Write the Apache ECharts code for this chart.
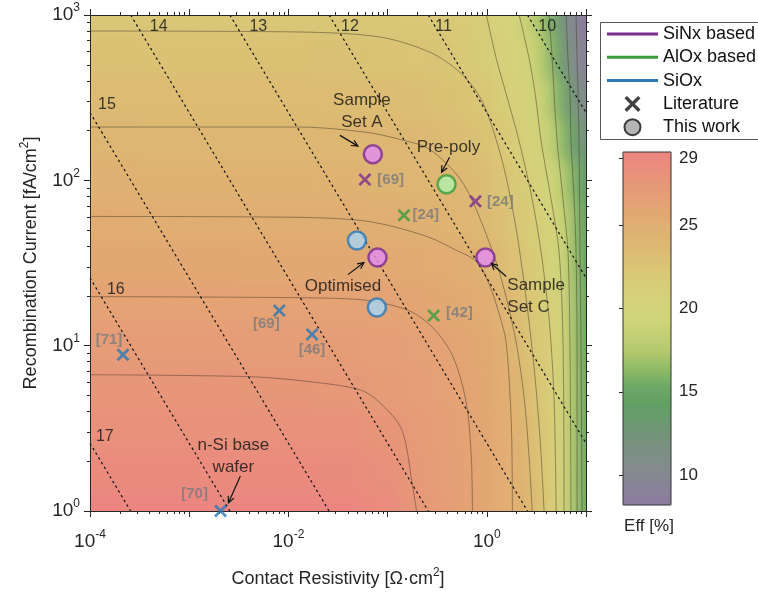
<!DOCTYPE html>
<html><head><meta charset="utf-8">
<script src="https://cdn.jsdelivr.net/npm/echarts@6/dist/echarts.min.js"></script>
<style>
html,body{margin:0;padding:0;background:#fff;}
#wrap{position:relative;width:758px;height:594px;overflow:hidden;}
#bg{position:absolute;left:0;top:0;width:758px;height:594px;filter:blur(8px);clip-path:inset(15px 172px 83px 90px);}
#main{position:absolute;left:0;top:0;width:758px;height:594px;}
</style></head><body>
<div id="wrap"><div id="bg"></div><div id="main"></div></div>
<script>
// ================= DATA =================
// efficiency map nodes
const rhoNodes = [1e-4, 1e-3, 0.01, 0.0316, 0.1, 0.178, 0.316, 0.562, 1, 1.41, 2.0, 2.82, 3.55, 4.47, 5.62, 6.61, 7.59, 8.71, 10];
const j0Nodes = [1, 1.78, 3.16, 5.62, 10, 17.8, 31.6, 56.2, 100, 178, 316, 562, 1000];
// efficiency [%], one row per j0Nodes entry, one column per rhoNodes entry
const effGrid = [
  [29.3, 29.3, 29.3, 29.2, 28.7, 27.6, 27.0, 26.5, 25.85, 25.4, 24.8, 23.9, 22.7, 21.7, 20.3, 19.0, 17.5, 15.8, 14.8],
  [28.7, 28.7, 28.7, 28.65, 28.2, 27.34, 26.9, 26.46, 25.83, 25.38, 24.74, 23.62, 22.47, 21.59, 20.26, 18.94, 17.51, 15.75, 14.8],
  [28.1, 28.1, 28.1, 28.05, 27.65, 27.22, 26.81, 26.41, 25.78, 25.35, 24.63, 23.28, 22.27, 21.49, 20.22, 18.9, 17.49, 15.7, 14.8],
  [27.55, 27.55, 27.5, 27.42, 27.01, 26.77, 26.54, 26.3, 25.66, 25.27, 24.37, 22.87, 22.06, 21.39, 20.16, 18.84, 17.47, 15.64, 14.8],
  [26.95, 26.95, 26.9, 26.87, 26.72, 26.55, 26.37, 25.98, 25.48, 25.18, 23.84, 22.46, 21.83, 21.15, 20.1, 18.78, 17.43, 15.5, 14.7],
  [26.4, 26.38, 26.35, 26.33, 26.3, 26.04, 25.76, 25.48, 25.2, 24.45, 23.2, 22.19, 21.6, 20.85, 19.84, 18.62, 17.32, 15.42, 14.6],
  [25.8, 25.78, 25.75, 25.68, 25.56, 25.44, 25.31, 25.18, 24.46, 23.55, 22.72, 21.77, 21.09, 20.35, 19.27, 18.2, 17.11, 15.33, 14.4],
  [25.2, 25.18, 25.15, 25.12, 24.98, 24.84, 24.57, 24.18, 23.62, 23.01, 22.36, 21.52, 20.87, 20.17, 19.02, 17.97, 16.96, 14.8, 14.0],
  [24.65, 24.63, 24.6, 24.55, 24.4, 24.26, 24.07, 23.87, 23.1, 22.64, 21.91, 21.03, 20.36, 19.46, 18.24, 17.02, 15.75, 14.2, 13.3],
  [24.05, 24.03, 24.0, 23.98, 23.92, 23.82, 23.62, 23.15, 22.67, 22.17, 21.39, 20.52, 19.85, 18.48, 16.87, 15.3, 13.8, 12.6, 11.8],
  [23.5, 23.48, 23.45, 23.4, 23.25, 23.1, 22.92, 22.68, 22.19, 21.53, 20.85, 20.16, 19.03, 17.54, 15.5, 13.5, 12.0, 10.8, 10.0],
  [22.9, 22.88, 22.85, 22.8, 22.67, 22.58, 22.49, 21.98, 21.47, 21.04, 20.45, 19.48, 17.99, 16.3, 13.5, 11.8, 10.4, 9.4, 8.8],
  [22.3, 22.3, 22.28, 22.23, 22.16, 22.1, 22.0, 21.72, 21.26, 20.67, 20.08, 18.35, 17.09, 15.4, 12.5, 10.8, 9.6, 8.6, 8.2]
];

// efficiency contour lines, [contact resistivity, J0]
const contourA = [[1e-4,6.67],[4.13e-3,6.49],[0.0166,6.05],[0.0526,5.41],[0.0836,4.52],[0.139,3.10],[0.179,1.40],[0.196,1]];
const contourB = [[1e-4,19.8],[0.0131,19.5],[0.0526,19.0],[0.105,17.7],[0.179,15.9],[0.284,12.9],[0.421,9.46],[0.531,6.67],[0.638,4.09],[0.700,2.04],[0.716,1]];
const contourC = [[1e-4,60.5],[0.0131,59.7],[0.0526,57.3],[0.113,52.6],[0.265,45.1],[0.473,38.2],[0.787,32.3],[1.06,23.4],[1.34,15.4],[1.57,10.4],[1.77,3.23],[1.81,1]];
const contourD = [[1e-4,210],[0.0131,210],[0.0618,195],[0.132,177],[0.265,154],[0.569,97.2],[1.06,42.1],[1.50,21.8],[1.98,10.4],[2.39,4.71],[2.68,2.04],[2.87,1]];
const contourE = [[1e-4,800],[0.0131,789],[0.0836,736],[0.265,597],[0.531,452],[0.843,323],[1.11,218],[1.50,117],[1.98,50.5],[2.50,19.0],[3.01,7.16],[3.45,2.69],[3.78,1]];
const contourF = [[0.991,1000],[1.25,541],[1.57,332],[2.12,172],[2.87,76.7],[3.53,36.6],[4.25,14.4],[4.77,4.71],[5.00,1]];
const contourG = [[2.12,1000],[2.68,541],[3.08,332],[3.53,172],[4.45,76.7],[5.36,36.6],[5.87,10.4],[6.01,1]];
const contourH = [[4.25,1000],[4.56,541],[4.77,332],[5.12,172],[5.87,76.7],[6.59,36.6],[6.90,9.46],[7.06,1]];
const contourI = [[6.30,1000],[6.59,541],[6.90,332],[7.06,172],[7.59,76.7],[7.94,36.6],[8.13,9.46],[8.13,1]];
const contourJ = [[7.94,1000],[8.13,541],[8.32,332],[8.51,172],[8.71,36.6],[8.91,9.46],[9.12,1]];
const contours = [contourA, contourB, contourC, contourD, contourE, contourF, contourG, contourH, contourI, contourJ];

// dashed iso-selectivity lines
const selLevels = [17, 16, 15, 14, 13, 12, 11, 10];
const selStart = [[1e-4,2.57],[1e-4,25.7],[1e-4,257],[2.57e-4,1000],[2.57e-3,1000],[2.57e-2,1000],[0.257,1000],[2.57,1000]];
const selEnd   = [[2.57e-4,1],[2.57e-3,1],[2.57e-2,1],[0.257,1],[2.57,1],[10,2.57],[10,25.7],[10,257]];
const selLabelAt = [[1.41e-4,2.81],[1.82e-4,21.9],[1.48e-4,289],[4.93e-4,846],[4.98e-3,846],[0.0417,846],[0.366,846],[4.06,846]];

// literature points (crosses)
const litRho   = [0.059, 0.769, 0.146, 0.291, 2.15e-4, 8.1e-3, 0.0173, 2.07e-3];
const litJ0    = [101, 74.6, 61.4, 15.2, 8.82, 16.3, 11.7, 1.0];
const litGroup = ['SiNx','SiNx','AlOx','AlOx','SiOx','SiOx','SiOx','SiOx'];
const litRef   = ['[69]','[24]','[24]','[42]','[71]','[69]','[46]','[70]'];

// this work (circles)
const workRho   = [0.0710, 0.0791, 0.968, 0.393, 0.0491, 0.078];
const workJ0    = [144, 34.1, 34.1, 94.6, 43.3, 17.0];
const workGroup = ['SiNx','SiNx','SiNx','AlOx','SiOx','SiOx'];

// annotations
const noteText  = ['Sample\nSet A', 'Pre-poly', 'Optimised', 'Sample\nSet C', 'n-Si base\nwafer'];
const noteAt    = [[0.0551,262],[0.411,158],[0.0355,22.8],[1.61,19.8],[2.79e-3,2.15]];
const arrowFrom = [[0.0331,187],[0.421,138],[0.0398,26.9],[1.57,26.2],[3.28e-3,1.63]];
const arrowTo   = [[0.0502,161],[0.350,112],[0.0577,31.8],[1.11,31.4],[2.49e-3,1.12]];

// ticks
const xMajor = [1e-4, 1e-3, 1e-2, 1e-1, 1, 10];
const xMinor = [2e-4,3e-4,4e-4,5e-4,6e-4,7e-4,8e-4,9e-4, 2e-3,3e-3,4e-3,5e-3,6e-3,7e-3,8e-3,9e-3,
                0.02,0.03,0.04,0.05,0.06,0.07,0.08,0.09, 0.2,0.3,0.4,0.5,0.6,0.7,0.8,0.9, 2,3,4,5,6,7,8,9];
const xLabelVals = [1e-4, 1e-2, 1];
const yMajor = [1, 10, 100, 1000];
const yMinor = [2,3,4,5,6,7,8,9, 20,30,40,50,60,70,80,90, 200,300,400,500,600,700,800,900];
const cbTicks = [10, 15, 20, 25, 29];
const cbMin = 8.2, cbMax = 29.4;
const legendNames = ['SiNx based', 'AlOx based', 'SiOx', 'Literature', 'This work'];

// ================= STYLE =================
const FONT = '"Liberation Sans", Arial, Helvetica, sans-serif';
const INK = '#262626';
const effColors = ['#8b7a9f','#898297','#858a8f','#7e8f86','#75937b','#6a996f','#619f64','#6da865','#8cb967','#afc76e','#c3cf74','#cfd479','#d4d37b','#d7cd79','#d9c676','#dcbc73','#deb472','#e1ab72','#e4a275','#e69878','#e98e7c','#eb8581'];
const groupColor = {SiNx:'#7b2d8e', AlOx:'#3b9b3f', SiOx:'#2b78b6'};
const groupFill  = {SiNx:'#e48cf1', AlOx:'#b3f1ad', SiOx:'#a7d5f6'};
const XPATH = 'path://M1.5,0L5,3.5L8.5,0L10,1.5L6.5,5L10,8.5L8.5,10L5,6.5L1.5,10L0,8.5L3.5,5L0,1.5Z';
const LINEICON = 'path://M0,0H51V3H0Z';
const litLabelStyle = [
  {position:'right', distance:6},
  {position:'right', distance:5},
  {position:'right', distance:2},
  {position:'right', distance:6, offset:[0,-3]},
  {position:'top', distance:1, offset:[-14,0]},
  {position:'bottom', distance:1, offset:[-13,-2]},
  {position:'bottom', distance:1},
  {position:'top', distance:3, offset:[-26,0]}
];
const noteLabelStyle = [{}, {}, {}, {align:'left'}, {}];
const GRID = {left:90, top:15, width:496, height:496};

const supRich = {
  b: {fontSize:19, color:INK, lineHeight:26, fontFamily:FONT},
  e: {fontSize:12, color:INK, lineHeight:13, verticalAlign:'top', fontFamily:FONT}
};
function powLabel(v){ return '{b|10}{e|' + Math.round(Math.log10(v)) + '}'; }

// ================= BACKGROUND EFFICIENCY MAP =================
const heatData = [];
effGrid.forEach((row, j) => row.forEach((v, i) => heatData.push([rhoNodes[i], j0Nodes[j], v, i, j])));

const bg = echarts.init(document.getElementById('bg'), null, {renderer:'canvas'});
bg.setOption({
  animation:false,
  grid: GRID,
  xAxis: {type:'log', logBase:10, min:1e-4, max:10, show:false},
  yAxis: {type:'log', logBase:10, min:1, max:1000, show:false},
  visualMap: {show:false, type:'continuous', min:cbMin, max:cbMax, dimension:2, seriesIndex:0, inRange:{color:effColors}},
  series: [{
    type:'custom', clip:false, data:heatData, encode:{x:0, y:1},
    renderItem: function(params, api){
      const i = api.value(3), j = api.value(4);
      const c = api.coord([rhoNodes[i], j0Nodes[j]]);
      const l = i > 0 ? (api.coord([rhoNodes[i-1], j0Nodes[j]])[0] + c[0]) / 2 : c[0] - 40;
      const r = i < rhoNodes.length-1 ? (api.coord([rhoNodes[i+1], j0Nodes[j]])[0] + c[0]) / 2 : c[0] + 40;
      const t = j < j0Nodes.length-1 ? (api.coord([rhoNodes[i], j0Nodes[j+1]])[1] + c[1]) / 2 : c[1] - 40;
      const b = j > 0 ? (api.coord([rhoNodes[i], j0Nodes[j-1]])[1] + c[1]) / 2 : c[1] + 40;
      return {type:'rect', shape:{x:l, y:t, width:r-l+0.6, height:b-t+0.6}, style:{fill:api.visual('color')}};
    }
  }]
});

// ================= FOREGROUND =================
function mkAxis(dim, pos, ticks, len, labels, line){
  return {
    type:'log', logBase:10, gridIndex:0, position:pos,
    min: dim === 'x' ? 1e-4 : 1, max: dim === 'x' ? 10 : 1000,
    axisLine:{show:line, lineStyle:{color:INK, width:1}},
    axisTick:{show:true, inside:false, length:len, customValues:ticks, lineStyle:{color:INK, width:1}},
    axisLabel: labels ? {show:true, customValues: dim === 'x' ? xLabelVals : yMajor, formatter:powLabel, rich:supRich, margin: dim === 'x' ? 18 : 10} : {show:false},
    splitLine:{show:false}, minorTick:{show:false}, z:5
  };
}

const xAxes = [
  mkAxis('x','bottom', xMajor, 6, true, true),
  mkAxis('x','bottom', xMinor, 3, false, false),
  mkAxis('x','top', xMajor, 6, false, true),
  mkAxis('x','top', xMinor, 3, false, false),
  {gridIndex:1, type:'value', min:0, max:1, show:false}
];
Object.assign(xAxes[0], {
  name:'{t|Contact Resistivity [Ω·cm}{s|2}{t|]}', nameLocation:'middle', nameGap:56,
  nameTextStyle:{rich:{t:{fontSize:18, color:INK, lineHeight:24, fontFamily:FONT}, s:{fontSize:12, color:INK, lineHeight:12, verticalAlign:'top', fontFamily:FONT}}}
});
const yAxes = [
  mkAxis('y','left', yMajor, 6, true, true),
  mkAxis('y','left', yMinor, 3, false, false),
  mkAxis('y','right', yMajor, 6, false, true),
  mkAxis('y','right', yMinor, 3, false, false),
  {gridIndex:1, type:'value', min:cbMin, max:cbMax, position:'right', z:12,
   axisLine:{show:false}, splitLine:{show:false},
   axisTick:{show:true, inside:true, length:4, customValues:cbTicks, lineStyle:{color:INK}},
   axisLabel:{show:true, customValues:cbTicks, fontSize:17, color:INK, margin:8, fontFamily:FONT}}
];
Object.assign(yAxes[0], {
  name:'{t|Recombination Current [fA/cm}{s|2}{t|]}', nameLocation:'middle', nameGap:47, nameRotate:90,
  nameTextStyle:{rich:{t:{fontSize:18, color:INK, lineHeight:24, fontFamily:FONT}, s:{fontSize:12, color:INK, lineHeight:12, verticalAlign:'top', fontFamily:FONT}}}
});

const series = [];
contours.forEach(c => series.push({
  type:'line', data:c, symbol:'none', smooth:0.3, silent:true, clip:true,
  lineStyle:{color:'rgba(70,58,42,0.55)', width:0.9}, z:2
}));
selStart.forEach((s, k) => series.push({
  type:'line', data:[s, selEnd[k]], symbol:'none', silent:true, clip:true,
  lineStyle:{color:'#111', width:1.2, type:[2.5,3]}, z:3
}));
series.push({
  type:'scatter', symbolSize:0, clip:false, silent:true, z:4,
  data: selLabelAt.map((p, k) => ({value:p, name:String(selLevels[k])})),
  label:{show:true, position:'inside', formatter:'{b}', fontSize:16, color:'#111', fontFamily:FONT}
});
series.push({
  type:'scatter', symbol:XPATH, symbolSize:13, clip:false, z:6,
  data: litRho.map((r, k) => ({value:[r, litJ0[k]], name:litRef[k],
    itemStyle:{color:groupColor[litGroup[k]]}, label:litLabelStyle[k]})),
  label:{show:true, formatter:'{b}', fontSize:15, fontWeight:'bold', color:'#7a7a7a', fontFamily:FONT}
});
series.push({
  type:'scatter', symbol:'circle', symbolSize:18, clip:false, z:7,
  data: workRho.map((r, k) => ({value:[r, workJ0[k]],
    itemStyle:{color:groupFill[workGroup[k]], borderColor:groupColor[workGroup[k]], borderWidth:2.5}}))
});
series.push({
  type:'scatter', symbolSize:0, clip:false, silent:true, z:8,
  data: noteAt.map((p, k) => ({value:p, name:noteText[k], label:noteLabelStyle[k]})),
  label:{show:true, position:'inside', formatter:'{b}', fontSize:17, lineHeight:22, color:'#111', fontFamily:FONT}
});
series.push({
  type:'custom', clip:false, silent:true, z:8,
  data: arrowFrom.map((f, k) => [f[0], f[1], arrowTo[k][0], arrowTo[k][1]]),
  encode:{x:[0,2], y:[1,3]},
  renderItem: function(params, api){
    const a = api.coord([api.value(0), api.value(1)]);
    const b = api.coord([api.value(2), api.value(3)]);
    const ang = Math.atan2(b[1]-a[1], b[0]-a[0]);
    const L = 7, W = 0.45;
    const h1 = [b[0] - L*Math.cos(ang-W), b[1] - L*Math.sin(ang-W)];
    const h2 = [b[0] - L*Math.cos(ang+W), b[1] - L*Math.sin(ang+W)];
    return {type:'group', children:[
      {type:'line', shape:{x1:a[0], y1:a[1], x2:b[0], y2:b[1]}, style:{stroke:'#111', lineWidth:1.2}},
      {type:'polyline', shape:{points:[h1, b, h2]}, style:{stroke:'#111', lineWidth:1.2, fill:null}}
    ]};
  }
});
// legend-only series
['SiNx','AlOx','SiOx'].forEach((g, k) => series.push({
  name: legendNames[k], type:'line', data:[], symbol:'none', showSymbol:false,
  lineStyle:{color:groupColor[g], width:3}, itemStyle:{color:groupColor[g]}
}));
series.push({name:legendNames[3], type:'scatter', data:[], symbol:XPATH, itemStyle:{color:'#111'}});
series.push({name:legendNames[4], type:'scatter', data:[], symbol:'circle', itemStyle:{color:'#a3a3a3', borderColor:'#111', borderWidth:2}});
// colorbar carrier
series.push({name:'_cb', type:'scatter', xAxisIndex:4, yAxisIndex:4, data:[]});
const cbIndex = series.length - 1;

const chart = echarts.init(document.getElementById('main'), null, {renderer:'canvas'});
chart.setOption({
  animation:false,
  backgroundColor:'transparent',
  textStyle:{fontFamily:FONT},
  grid:[GRID, {left:623, top:152, width:48, height:353, show:true, borderColor:'#333', borderWidth:1, backgroundColor:'transparent', z:10}],
  xAxis:xAxes,
  yAxis:yAxes,
  legend:{
    data:[
      {name:legendNames[0], icon:LINEICON},
      {name:legendNames[1], icon:LINEICON},
      {name:legendNames[2], icon:LINEICON},
      {name:legendNames[3]},
      {name:legendNames[4]}
    ],
    orient:'vertical', left:600, top:22, itemWidth:51, itemHeight:16, itemGap:5.3,
    padding:[3,10,5,7], borderWidth:0, selectedMode:false,
    textStyle:{fontSize:18, color:'#111', fontFamily:FONT}
  },
  visualMap:{
    type:'continuous', seriesIndex:cbIndex, dimension:1, min:cbMin, max:cbMax,
    left:623, top:152, itemWidth:48, itemHeight:353, calculable:false, padding:0,
    inRange:{color:effColors}
  },
  graphic:[
    {type:'rect', z:3, shape:{x:600.5, y:22.5, width:220, height:117}, style:{fill:'#fff', stroke:'#555', lineWidth:1}},
    {type:'text', x:649, y:526, style:{text:'Eff [%]', fontSize:17, fontFamily:FONT, fill:INK, align:'center', verticalAlign:'middle', textAlign:'center', textVerticalAlign:'middle'}}
  ],
  series: series
});
</script>
</body></html>
